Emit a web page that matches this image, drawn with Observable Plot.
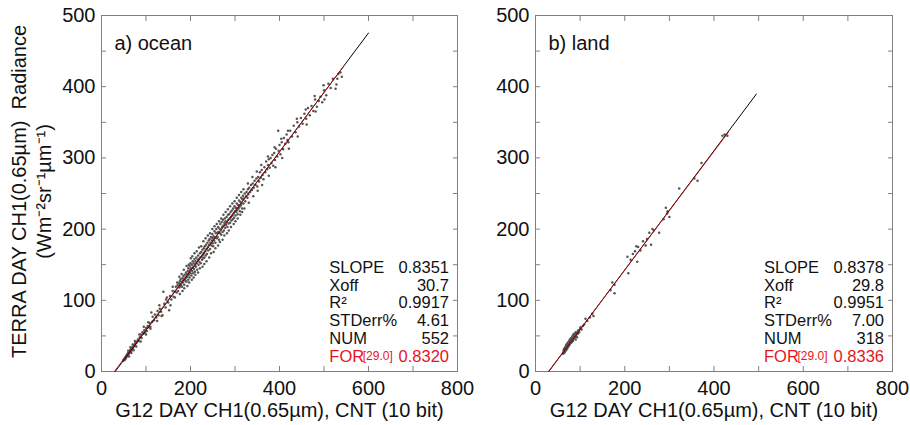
<!DOCTYPE html>
<html><head><meta charset="utf-8">
<script src="https://cdn.jsdelivr.net/npm/d3@7"></script>
<script src="https://cdn.jsdelivr.net/npm/@observablehq/plot@0.6"></script>
<style>
body{margin:0;background:#fff;font-family:"Liberation Sans",Arial,sans-serif;}
#wrap{display:flex;width:910px;height:425px;}
</style></head><body><div id="wrap"></div>
<script>
const xTicks = [0,100,200,300,400,500,600,700,800];
const xLabels = [0,200,400,600,800];
const yTicks = [0,50,100,150,200,250,300,350,400,450,500];
const yLabels = [0,100,200,300,400,500];

const statLabels = ["SLOPE","Xoff","R²","STDerr%","NUM"];
const oceanStats = ["0.8351","30.7","0.9917","4.61","552"];
const landStats = ["0.8378","29.8","0.9951","7.00","318"];
const oceanFit = {slope: 0.8351, xoff: 30.7, xEnd: 600};
const landFit = {slope: 0.8378, xoff: 29.8, xEnd: 495};
const oceanFor = {slope: 0.8320, xoff: 29.0, xEnd: 545, text: "0.8320"};
const landFor = {slope: 0.8336, xoff: 29.0, xEnd: 432, text: "0.8336"};

const oceanPts = [
[49,15],[50,17],[51,16],[52,18],[53,19],[53,17],[54,20],[55,19],[55,21],[56,22],[57,21],[57,23],[58,22],[58,24],[59,25],[60,23],[60,26],[61,25],[62,27],[62,26],[63,28],[64,27],[64,29],[65,30],[66,29],[66,31],[67,32],[68,30],[68,33],[69,33],[70,34],[71,32],[72,35],[73,36],[74,38],[75,37],[76,39],[77,41],[78,40],[80,42],
[60,29],[62,21],[65,34],[67,26],[70,38],[72,30],[75,43],[78,35],[85,52],[88,42],[95,63],[100,52],[105,69],[110,60],[115,77],[125,71],[130,93],[135,78],[145,101],[155,93],[160,119],[165,104],[170,125],
[82,45],[84,43],[86,48],[88,52],[90,47],[92,55],[94,53],[96,58],[98,54],[100,61],[102,57],[104,64],[106,62],[108,68],[110,63],
[112,83],[114,70],[118,72],[120,80],[123,76],[126,85],[128,79],[131,88],[134,84],[137,79],[139,112],[141,95],[144,90],[147,104],[150,97],[152,86],[154,106],[157,101],[160,113],[162,105],[165,112],[167,119],[169,111],
[171,121],[172,113],[174,124],[175,118],[176,127],[177,120],[178,130],[179,122],[180,126],[181,119],[182,131],[183,125],[184,134],[185,128],[186,122],[187,136],[188,130],[189,127],[190,139],[190,132],[191,126],[192,137],[193,133],[194,141],[195,129],[195,145],[196,136],[197,140],[198,132],[198,148],[199,143],[200,138],[200,152],[201,145],[202,135],[203,150],[204,141],[205,155],[205,146],[206,138],[207,152],[208,144],[209,158],[210,149],[210,140],[211,155],[212,147],[213,160],[214,152],[215,143],[216,157],[217,163],[218,150],[219,158],[220,154],[221,166],[222,160],[223,152],[224,168],[225,161],[226,157],[227,171],[228,164],[229,159],[230,173],[230,166],
[175,133],[176,109],[180,137],[182,113],[185,143],[186,117],[191,148],[193,120],[196,150],[197,125],[201,159],[203,129],[204,162],[207,132],[209,166],[211,136],[214,169],[217,139],[219,174],[221,145],[224,176],[227,147],[229,183],[231,151],
[231,160],[232,176],[233,169],[234,163],[235,178],[236,172],[237,165],[238,181],[239,175],[240,170],[241,184],[242,178],[243,186],[244,172],[245,181],[246,189],[247,177],[248,184],[249,193],[250,180],[250,187],[251,176],[252,190],[253,184],[254,197],[255,188],[256,181],[257,194],[258,200],[259,187],[260,195],[261,189],[262,203],[263,196],[264,185],[265,201],[266,194],[267,207],[268,199],[269,192],[270,210],[271,203],[272,196],[273,213],[274,205],[275,198],[276,209],[277,215],[278,202],[279,211],[280,206],[281,217],[282,210],[283,203],[284,220],[285,213],[286,208],[287,221],[288,215],[289,209],[290,224],[291,217],[292,212],[293,226],[294,219],[295,214],[296,229],[297,222],[298,216],[299,232],[300,225],[301,219],[302,230],[303,224],[304,236],[305,227],[306,221],[307,234],[308,229],[309,240],[310,231],[311,225],[312,238],[313,233],[314,244],[315,236],[316,229],[317,242],[318,247],[319,236],[320,243],[322,250],[323,239],[325,246],[326,252],[328,244],[329,256],[330,249],
[234,187],[236,155],[239,191],[242,160],[244,194],[246,166],[249,200],[252,168],[254,204],[256,173],[259,207],[262,177],[264,211],[266,182],[269,215],[272,185],[274,220],[276,191],[279,224],[282,194],[284,228],[286,198],[289,232],[291,203],[294,236],[297,207],[299,239],[301,211],[304,244],[306,215],[309,248],[312,220],[314,252],[316,224],[319,256],[321,229],[329,264],[331,237],
[332,258],[334,252],[336,262],[338,255],[340,264],[342,258],[344,268],[346,262],[348,271],[350,260],[352,273],[354,267],[356,280],[358,272],[360,283],[362,276],[364,270],[366,287],[368,280],[370,295],[372,284],[374,290],[376,298],[378,286],[380,300],[382,293],[384,304],[386,289],[388,307],[390,297],[392,313],[395,302],[397,338],[398,310],[400,318],[402,305],[405,322],[408,312],[410,328],[413,320],[416,333],[418,325],[420,322],
[339,273],[341,246],[349,281],[351,254],[359,290],[361,262],[374,302],[376,275],[389,315],[391,287],[404,327],[406,300],[419,338],[421,313],
[424,338],[428,330],[432,345],[436,336],[440,350],[444,344],[448,356],[452,348],[456,362],[460,355],[464,370],[468,360],[472,373],[476,366],[480,382],[484,372],[488,380],[492,386],[496,378],[500,395],[505,388],[510,404],[515,398],[520,411],[526,397],[528,403],[530,411],[532,418],[537,420],[540,414],
[439,355],[441,330],[459,368],[461,347],[479,387],[481,365],[499,402],[501,382]
];

const landPts = [
[62,25],[63,27],[63,30],[64,26],[64,28],[64,32],[65,29],[65,31],[65,27],[66,33],[66,30],[66,28],[67,31],[67,34],[67,29],[68,32],[68,36],[68,30],[69,34],[69,37],[69,31],[70,33],[70,35],[70,38],[71,36],[71,32],[71,39],[72,37],[72,34],[72,40],[73,38],[73,35],[74,41],[74,37],[74,39],[75,36],[75,42],[75,40],[76,38],[76,43],[77,41],[77,39],[77,45],[78,42],[78,44],[79,40],[79,46],[80,43],[80,47],[81,45],[81,41],[82,48],[82,44],[83,46],[83,50],[84,47],[84,43],[85,49],[85,52],[86,46],[87,50],[87,53],[88,48],[89,52],[90,55],[90,45],[91,50],[92,54],[93,48],[94,56],[95,53],[96,58],[98,55],[100,60],[101,62],[103,59],[106,64],[109,66],[112,74],[116,71],[122,76],[127,81],[130,78],
[168,114],[172,125],[177,122],[177,110],[206,161],[208,138],[213,157],[218,165],[223,169],[226,176],[228,154],[230,175],[235,170],[241,183],[247,177],[250,186],[255,195],[259,178],[262,200],[265,198],[277,195],[287,214],[292,230],[295,222],[296,225],[300,217],[322,257],[356,271],[363,268],[372,293],[419,331],[424,333],[430,331]
];

const FONT = '"Liberation Sans", Arial, Helvetica, sans-serif';
const GRAY = "#808080";
const RED = "#e8141c";

function panel({pts, stats, fit, forFit, title, width, marginLeft, marginRight, yTitle}) {
  const fitLine = [fit.xoff, fit.xEnd].map(x => ({x, y: fit.slope * (x - fit.xoff)}));
  const forLine = [forFit.xoff, forFit.xEnd].map(x => ({x, y: forFit.slope * (x - forFit.xoff)}));
  const rows = statLabels.map((label, i) => ({label, value: stats[i], i}));
  const rowY = i => 146 - i * 25;
  const marks = [
    Plot.frame({stroke: GRAY}),
    Plot.axisX(xTicks, {anchor: "bottom", tickSize: -5, tickFormat: () => "", label: null, stroke: GRAY}),
    Plot.axisX(xTicks, {anchor: "top", tickSize: -5, tickFormat: () => "", label: null, stroke: GRAY}),
    Plot.axisY(yTicks, {anchor: "left", tickSize: -5, tickFormat: () => "", label: null, stroke: GRAY}),
    Plot.axisY(yTicks, {anchor: "right", tickSize: -5, tickFormat: () => "", label: null, stroke: GRAY}),
    Plot.axisX(xLabels, {anchor: "bottom", tickSize: 0, tickPadding: 9, fontSize: 20, label: null, fill: "#111"}),
    Plot.axisY(yLabels, {anchor: "left", tickSize: 0, tickPadding: 6, fontSize: 20, label: null, fill: "#111"}),
    Plot.dot(pts, {x: d => d[0], y: d => d[1], r: 1.25, fill: "#555"}),
    Plot.line(fitLine, {x: "x", y: "y", stroke: "#000", strokeWidth: 1}),
    Plot.line(forLine, {x: "x", y: "y", stroke: "#b01010", strokeWidth: 0.9}),
    Plot.text([title], {x: 29, y: 461, text: d => d, textAnchor: "start", lineAnchor: "middle", fontSize: 20, fill: "#111"}),
    Plot.text(rows, {x: 512, y: d => rowY(d.i), text: "label", textAnchor: "start", lineAnchor: "middle", fontSize: 16.5, fill: "#111"}),
    Plot.text(rows, {x: 781, y: d => rowY(d.i), text: "value", textAnchor: "end", lineAnchor: "middle", fontSize: 16.5, fill: "#111"}),
    Plot.text(["FOR"], {x: 512, y: rowY(5), text: d => d, textAnchor: "start", lineAnchor: "middle", fontSize: 16.5, fill: RED}),
    Plot.text(["[29.0]"], {x: 587, y: rowY(5), text: d => d, textAnchor: "start", lineAnchor: "middle", fontSize: 12, fill: RED}),
    Plot.text([forFit.text], {x: 781, y: rowY(5), text: d => d, textAnchor: "end", lineAnchor: "middle", fontSize: 16.5, fill: RED}),
    Plot.text(["G12 DAY CH1(0.65µm), CNT (10 bit)"], {frameAnchor: "bottom", dy: 39, text: d => d, textAnchor: "middle", lineAnchor: "middle", fontSize: 20, fill: "#111"})
  ];
  if (yTitle) {
    marks.push(
      Plot.text(["TERRA DAY CH1(0.65µm)\u00a0 Radiance"], {frameAnchor: "left", dx: -82, dy: -2, rotate: -90, text: d => d, textAnchor: "middle", lineAnchor: "middle", fontSize: 20, fill: "#111"}),
      Plot.text(["(Wm⁻²sr⁻¹µm⁻¹)"], {frameAnchor: "left", dx: -57, dy: -2, rotate: -90, text: d => d, textAnchor: "middle", lineAnchor: "middle", fontSize: 20, fill: "#111"})
    );
  }
  return Plot.plot({
    width, height: 425, marginLeft, marginRight, marginTop: 15, marginBottom: 54,
    x: {domain: [0, 800]},
    y: {domain: [0, 500]},
    style: {fontFamily: FONT, overflow: "visible", background: "transparent"},
    marks
  });
}

const wrap = document.getElementById("wrap");
wrap.appendChild(panel({pts: oceanPts, stats: oceanStats, fit: oceanFit, forFit: oceanFor, title: "a) ocean", width: 460, marginLeft: 101, marginRight: 3, yTitle: true}));
wrap.appendChild(panel({pts: landPts, stats: landStats, fit: landFit, forFit: landFor, title: "b) land", width: 450, marginLeft: 75, marginRight: 18, yTitle: false}));
</script>
</body></html>
